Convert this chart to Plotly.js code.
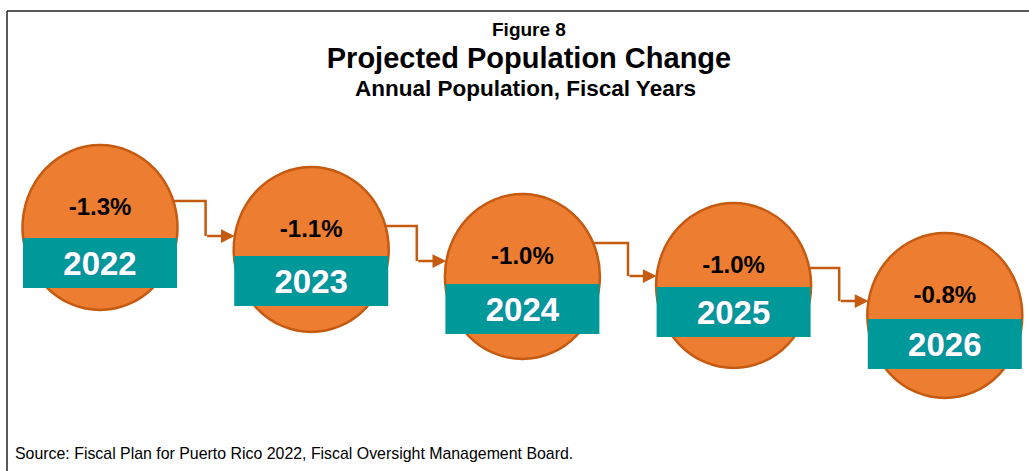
<!DOCTYPE html>
<html>
<head>
<meta charset="utf-8">
<script src="https://cdn.plot.ly/plotly-3.0.1.min.js"></script>
<style>
  html, body { margin: 0; padding: 0; background: #fff; }
  #chart { width: 1029px; height: 471px; }
</style>
</head>
<body>
<div id="chart"></div>
<script>
// ---------------- DATA ----------------
const years = ['2022', '2023', '2024', '2025', '2026'];
const changes = [-1.3, -1.1, -1.0, -1.0, -0.8];

// ---------------- LAYOUT (decorative step placement, pixels from top) ----------------
const ovalTop = [145, 167, 194, 203, 233];
const bandTop = [238, 256, 284, 287, 319];
const linkOut = [201, 226, 243, 268];
const linkIn  = [236, 261, 276, 301];

const W = 1029, H = 471;
const pxPerUnit = 211.2;
const firstCenterPx = 100;
const x0 = -firstCenterPx / pxPerUnit;
const x1 = x0 + W / pxPerUnit;
const ovalW = 155, ovalH = 165, bandW = 154, bandH = 50;
const rx = ovalW / 2 / pxPerUnit, ry = ovalH / 2;

const ORANGE = '#ED7D31', ORANGE_LINE = '#C55A11', TEAL = '#009999';
const FONT = 'Liberation Sans, Arial, sans-serif';

const idx = years.map((_, i) => i);
const labels = changes.map(v => v.toFixed(1) + '%');

const shapes = [];
const annotations = [];

idx.forEach(i => {
  shapes.push({
    type: 'circle', xref: 'x', yref: 'y', layer: 'below',
    x0: i - rx, x1: i + rx, y0: ovalTop[i], y1: ovalTop[i] + ovalH,
    fillcolor: ORANGE, line: { color: ORANGE_LINE, width: 2.5 }
  });
  shapes.push({
    type: 'rect', xref: 'x', yref: 'y', layer: 'below',
    x0: i - bandW / 2 / pxPerUnit, x1: i + bandW / 2 / pxPerUnit,
    y0: bandTop[i], y1: bandTop[i] + bandH,
    fillcolor: TEAL, line: { width: 0 }
  });
});

function edgeDx(i, y) {
  const cy = ovalTop[i] + ovalH / 2;
  const t = (y - cy) / ry;
  return rx * Math.sqrt(Math.max(0, 1 - t * t));
}

for (let i = 0; i < years.length - 1; i++) {
  const yo = linkOut[i], yi = linkIn[i];
  const xs = i + edgeDx(i, yo) - 0.004;
  const xm = i + 0.5;
  const xe = (i + 1) - edgeDx(i + 1, yi);
  shapes.push({
    type: 'path', xref: 'x', yref: 'y', layer: 'above',
    path: `M ${xs},${yo} L ${xm},${yo} L ${xm},${yi}`,
    line: { color: ORANGE_LINE, width: 2.5 }
  });
  annotations.push({
    x: xe, y: yi, ax: xm, ay: yi, xref: 'x', yref: 'y', axref: 'x', ayref: 'y',
    text: '', showarrow: true, arrowhead: 2, arrowsize: 1.1, arrowwidth: 2.5,
    arrowcolor: ORANGE_LINE, standoff: 0, startstandoff: 0
  });
}

// frame lines
shapes.push({ type: 'line', xref: 'paper', yref: 'paper', x0: 7 / W, x1: 1, y0: 1 - 11 / H, y1: 1 - 11 / H, line: { color: '#222', width: 1.5 } });
shapes.push({ type: 'line', xref: 'paper', yref: 'paper', x0: 7 / W, x1: 7 / W, y0: 0, y1: 1 - 11 / H, line: { color: '#222', width: 1.5 } });

annotations.push({
  xref: 'paper', yref: 'paper', x: 529 / W, y: 1 - 30 / H, xanchor: 'center', yanchor: 'middle',
  text: '<b>Figure 8</b>', showarrow: false, font: { family: FONT, size: 19, color: '#000' }
});
annotations.push({
  xref: 'paper', yref: 'paper', x: 525 / W, y: 1 - 89 / H, xanchor: 'center', yanchor: 'middle',
  text: '<b>Annual Population, Fiscal Years</b>', showarrow: false, font: { family: FONT, size: 22.5, color: '#000' }
});
annotations.push({
  xref: 'paper', yref: 'paper', x: 13 / W, y: 1 - 453 / H, xanchor: 'left', yanchor: 'middle',
  text: 'Source: Fiscal Plan for Puerto Rico 2022, Fiscal Oversight Management Board.', showarrow: false,
  font: { family: FONT, size: 15.9, color: '#000' }
});

const traces = [
  {
    type: 'scatter', mode: 'text', x: idx, y: idx.map(i => ovalTop[i] + 64),
    text: labels, textposition: 'middle center',
    textfont: { family: FONT, size: 24, color: '#000', weight: 'bold' },
    hoverinfo: 'skip', showlegend: false, cliponaxis: false
  },
  {
    type: 'scatter', mode: 'text', x: idx, y: idx.map(i => bandTop[i] + bandH / 2 + 4),
    text: years, textposition: 'middle center',
    textfont: { family: FONT, size: 33, color: '#fff', weight: 'bold', shadow: '0px 0px 1.5px #4472C4' },
    hoverinfo: 'skip', showlegend: false, cliponaxis: false
  }
];

const layout = {
  width: W, height: H,
  margin: { l: 0, r: 0, t: 0, b: 0 },
  paper_bgcolor: '#fff', plot_bgcolor: '#fff',
  title: {
    text: '<b>Projected Population Change</b>',
    font: { family: FONT, size: 29, color: '#000' },
    x: 529 / W, xanchor: 'center', xref: 'paper',
    y: 1 - 58 / H, yanchor: 'middle', yref: 'container'
  },
  xaxis: { range: [x0, x1], visible: false, fixedrange: true },
  yaxis: { range: [H, 0], visible: false, fixedrange: true },
  showlegend: false,
  hovermode: false,
  shapes: shapes,
  annotations: annotations
};

Plotly.newPlot('chart', traces, layout, { displayModeBar: false, staticPlot: true });
</script>
</body>
</html>
